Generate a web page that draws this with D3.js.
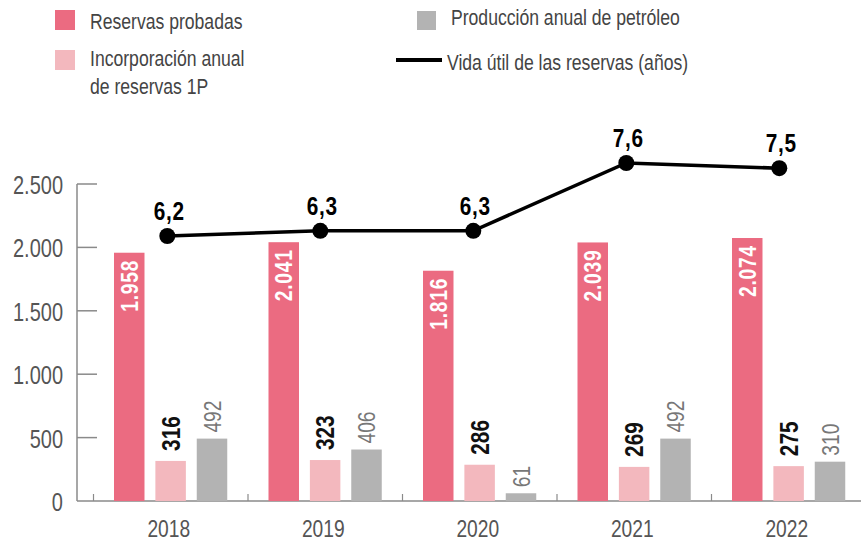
<!DOCTYPE html>
<html><head><meta charset="utf-8">
<script src="https://cdn.jsdelivr.net/npm/d3@7"></script>
<style>
body{margin:0;background:#fff;}
text{font-family:"Liberation Sans",Arial,sans-serif;}
</style></head>
<body>
<svg id="c" width="861" height="543"></svg>
<script>
const years = ["2018","2019","2020","2021","2022"];
const reservas = [1958, 2041, 1816, 2039, 2074];
const incorporacion = [316, 323, 286, 269, 275];
const produccion = [492, 406, 61, 492, 310];
const vidaUtil = [6.2, 6.3, 6.3, 7.6, 7.5];
const yTicks = [0, 500, 1000, 1500, 2000, 2500];
const seriesNames = ["Reservas probadas", "Incorporación anual de reservas 1P", "Producción anual de petróleo"];
const lineName = "Vida útil de las reservas (años)";

const colors = {red:"#eb6b81", pink:"#f3b8be", gray:"#b3b3b3", axis:"#8a8a8a", text:"#444"};
const fmt = v => v.toLocaleString("de-DE");
const fmtDec = v => v.toFixed(1).replace(".", ",");
const SX = 0.8; // condensed look
const tf = (px, py, rot) => `translate(${px},${py})` + (rot ? ` rotate(${rot})` : "") + ` scale(${SX},1)`;

const svg = d3.select("#c");

const y = d3.scaleLinear().domain([0, 2500]).range([501, 184]);
const x = d3.scaleBand().domain(years).range([93.5, 866]);
const xi = d3.scaleBand().domain([0,1,2]).range([-56.75, 56.5]).paddingInner(0.263);
const xl = d3.scalePoint().domain(years).range([167.3, 779.3]);
const yl = d3.scaleLinear().domain([6.2, 7.6]).range([236, 163]);

// y axis
svg.append("line").attr("x1",77).attr("x2",77).attr("y1",y(2500)).attr("y2",y(0))
  .attr("stroke",colors.axis).attr("stroke-width",1.5);
const yg = svg.append("g");
yg.selectAll("line").data(yTicks.filter(d=>d>0)).join("line")
  .attr("x1",77).attr("x2",97).attr("y1",d=>y(d)).attr("y2",d=>y(d))
  .attr("stroke",colors.axis).attr("stroke-width",1.5);
yg.selectAll("text").data(yTicks).join("text")
  .attr("transform",d=>tf(63, y(d)+10))
  .attr("text-anchor","end")
  .attr("font-size",25).attr("fill","#555").text(d=>fmt(d));

// x axis
svg.append("line").attr("x1",77).attr("x2",861).attr("y1",y(0)).attr("y2",y(0))
  .attr("stroke",colors.axis).attr("stroke-width",1.5);
svg.append("g").selectAll("line").data(years).join("line")
  .attr("x1",d=>x(d)).attr("x2",d=>x(d)).attr("y1",y(0)).attr("y2",y(0)-7)
  .attr("stroke",colors.axis).attr("stroke-width",1.2);
svg.append("g").selectAll("text").data(years).join("text")
  .attr("transform",d=>tf(x(d)+x.bandwidth()/2-2, 537))
  .attr("text-anchor","middle")
  .attr("font-size",24).attr("fill","#555").text(d=>d);

// bars
const series = [reservas, incorporacion, produccion];
const barColors = [colors.red, colors.pink, colors.gray];
series.forEach((vals, si) => {
  const g = svg.append("g");
  g.selectAll("rect").data(years).join("rect")
    .attr("x",(d)=>x(d)+x.bandwidth()/2+xi(si))
    .attr("width",xi.bandwidth())
    .attr("y",(d,i)=>y(vals[i]))
    .attr("height",(d,i)=>y(0)-y(vals[i]))
    .attr("fill",barColors[si]);
  g.selectAll("text").data(years).join("text")
    .attr("transform",(d,i)=>{
      const cx = x(d)+x.bandwidth()/2+xi(si)+xi.bandwidth()/2;
      const yy = si===0 ? y(vals[i])+7 : y(vals[i]) - (si===1 ? 10 : 6);
      return tf(cx, yy, -90);
    })
    .attr("text-anchor", si===0 ? "end" : "start")
    .attr("dy","0.36em")
    .attr("font-size", si===0 ? 24 : (si===1 ? 26 : 24))
    .attr("font-weight", si===2 ? "normal" : "bold")
    .attr("letter-spacing", si===0 ? 1 : 0)
    .attr("fill", si===0 ? "#fff" : (si===1 ? "#111" : "#777"))
    .text((d,i)=>fmt(vals[i]));
});

// line
const line = d3.line().x((d,i)=>xl(years[i])).y(d=>yl(d));
svg.append("path").datum(vidaUtil).attr("d",line).attr("fill","none")
  .attr("stroke","#000").attr("stroke-width",3.5);
svg.append("g").selectAll("circle").data(vidaUtil).join("circle")
  .attr("cx",(d,i)=>xl(years[i])).attr("cy",d=>yl(d)).attr("r",8).attr("fill","#000");
svg.append("g").selectAll("text").data(vidaUtil).join("text")
  .attr("transform",(d,i)=>tf(xl(years[i])+2, yl(d)-16))
  .attr("text-anchor","middle")
  .attr("font-size",26).attr("font-weight","bold").attr("letter-spacing",1).attr("fill","#000")
  .text(d=>fmtDec(d));

// legend
const lg = svg.append("g").attr("fill",colors.text).attr("font-size",22);
lg.append("rect").attr("x",55).attr("y",10).attr("width",20).attr("height",20).attr("fill",colors.red);
lg.append("text").attr("transform",tf(90,29)).text(seriesNames[0]);
lg.append("rect").attr("x",55).attr("y",50).attr("width",20).attr("height",20).attr("fill",colors.pink);
lg.append("text").attr("transform",tf(90,66)).text("Incorporación anual");
lg.append("text").attr("transform",tf(90,94)).text("de reservas 1P");
lg.append("rect").attr("x",417).attr("y",11).attr("width",19).attr("height",19).attr("fill",colors.gray);
lg.append("text").attr("transform",tf(451,25)).text(seriesNames[2]);
lg.append("line").attr("x1",396).attr("x2",442).attr("y1",60).attr("y2",60).attr("stroke","#000").attr("stroke-width",4);
lg.append("text").attr("transform",tf(447,70)).text(lineName);
</script>
</body></html>
